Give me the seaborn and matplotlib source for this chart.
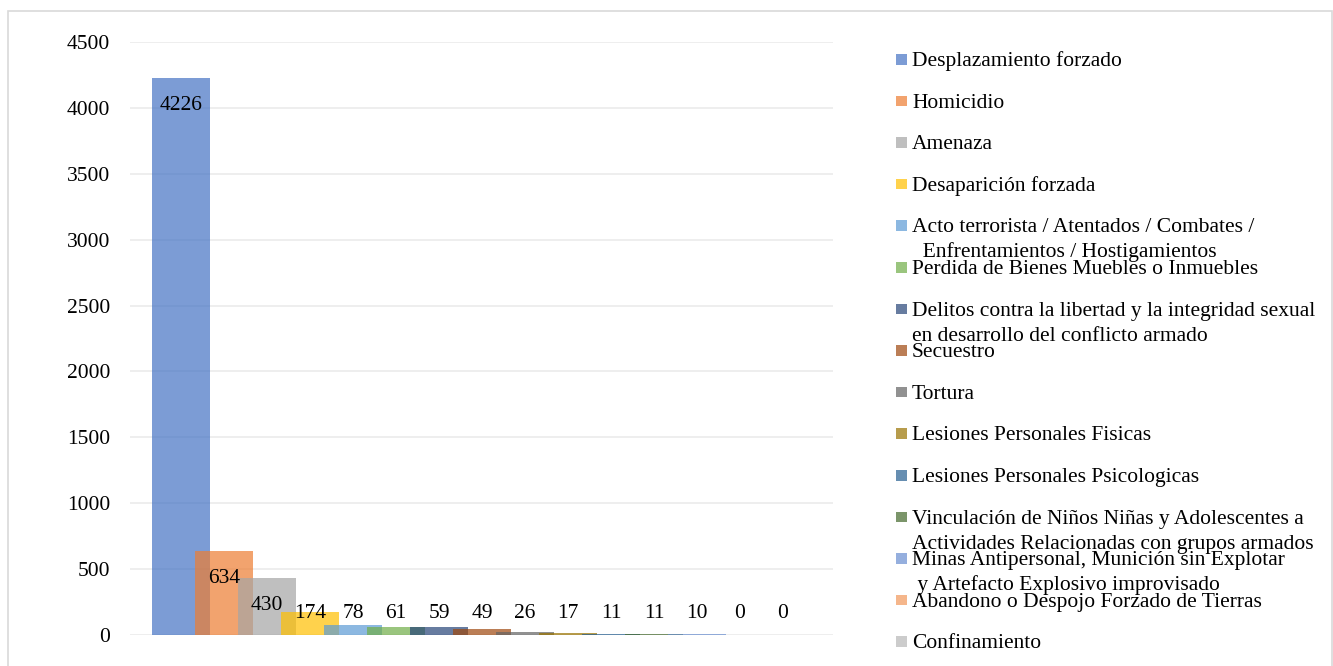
import matplotlib
matplotlib.use('Agg')
import matplotlib.pyplot as plt
from matplotlib.patches import Rectangle
import seaborn as sns
import pandas as pd

# Data
categories = [
    "Desplazamiento forzado",
    "Homicidio",
    "Amenaza",
    "Desaparición forzada",
    "Acto terrorista / Atentados / Combates /\n  Enfrentamientos / Hostigamientos",
    "Perdida de Bienes Muebles o Inmuebles",
    "Delitos contra la libertad y la integridad sexual\nen desarrollo del conflicto armado",
    "Secuestro",
    "Tortura",
    "Lesiones Personales Fisicas",
    "Lesiones Personales Psicologicas",
    "Vinculación de Niños Niñas y Adolescentes a\nActividades Relacionadas con grupos armados",
    "Minas Antipersonal, Munición sin Explotar\n y Artefacto Explosivo improvisado",
    "Abandono o Despojo Forzado de Tierras",
    "Confinamiento",
]
values = [4226, 634, 430, 174, 78, 61, 59, 49, 26, 17, 11, 11, 10, 0, 0]
colors = ["#4472C4", "#ED7D31", "#A5A5A5", "#FFC000", "#5B9BD5", "#70AD47",
          "#264478", "#9E480E", "#636363", "#997300", "#255E91", "#43682B",
          "#698ED0", "#F1975A", "#B7B7B7"]
yticks = [0, 500, 1000, 1500, 2000, 2500, 3000, 3500, 4000, 4500]

df = pd.DataFrame({"cat": categories, "value": values})

sns.set_style("white")
plt.rcParams['font.family'] = ['Liberation Serif', 'DejaVu Serif']

W, H = 1333, 666
fig = plt.figure(figsize=(W / 100, H / 100), dpi=100)
ax = fig.add_axes([130 / W, (H - 635) / H, 703 / W, 593 / H])

sns.barplot(data=df, x="cat", y="value", hue="cat", palette=colors,
            order=categories, hue_order=categories, width=1.35,
            saturation=1, alpha=0.7, legend=False, linewidth=0,
            edgecolor='none', ax=ax)

# data labels
for i, v in enumerate(values):
    ax.text(i, max(v - 241, 129), str(v), ha='center', va='baseline',
            fontsize=15.5, color='black')

ax.set_xlim(-1.186, 15.163)
ax.set_ylim(0, 4500)
ax.set_yticks(yticks)
ax.set_yticklabels([str(t) for t in yticks])
ax.set_xticks([])
ax.set_xlabel("")
ax.set_ylabel("")
ax.tick_params(axis='y', length=0, pad=14.4, labelsize=15.5, labelcolor='black')
ax.grid(axis='y', color='#EBEBEB', linewidth=1.2)
ax.set_axisbelow(True)
for s in ax.spines.values():
    s.set_visible(False)

# legend drawn like the spreadsheet one (fixed row spacing)
for i, (lab, c) in enumerate(zip(categories, colors)):
    base = 66 + 41.6 * i
    fig.patches.append(Rectangle((896 / W, 1 - (base - 1.5) / H), 10.5 / W, 10.5 / H,
                                 transform=fig.transFigure, facecolor=c,
                                 alpha=0.7, edgecolor='none'))
    for k, line in enumerate(lab.split("\n")):
        fig.text(912 / W, 1 - (base + 25 * k) / H, line, ha='left',
                 va='baseline', fontsize=15.5, color='black')

# outer chart frame
fig.patches.append(Rectangle((8 / W, -0.05), 1324 / W, 1.05 - 11 / H,
                             transform=fig.transFigure, facecolor='none',
                             edgecolor='#D9D9D9', linewidth=1.2))

fig.savefig("out.png", dpi=100)
